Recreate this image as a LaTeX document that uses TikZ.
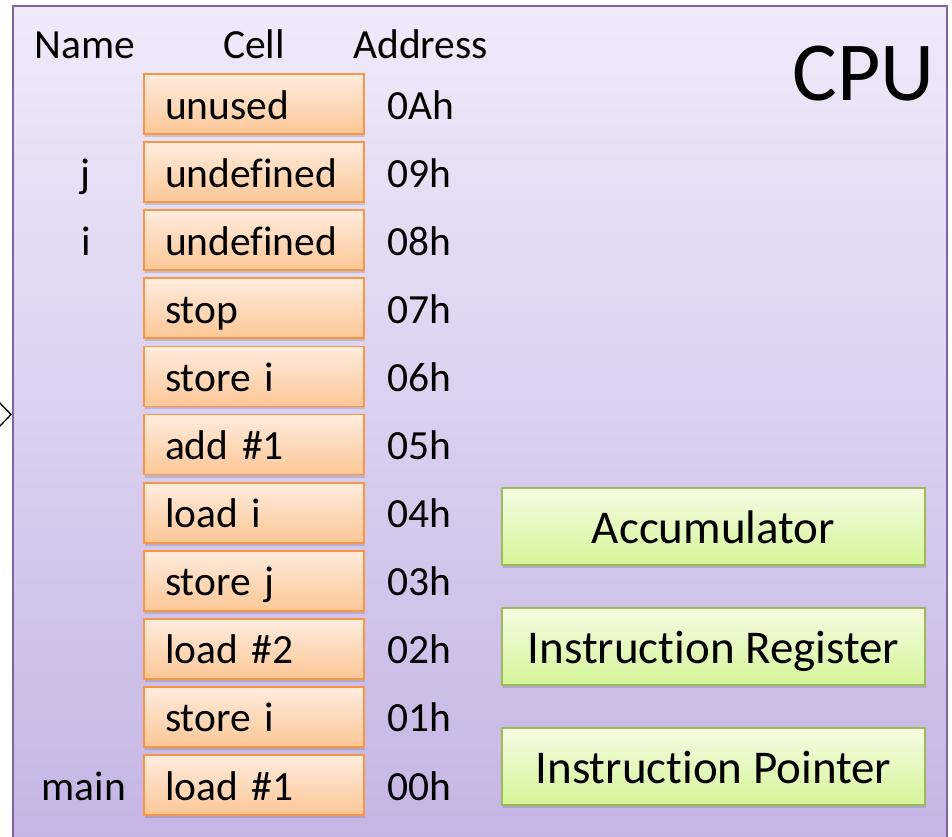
\documentclass[tikz,border=0pt]{standalone}
\usepackage{fontspec}
\setmainfont{Carlito}[Ligatures={NoCommon}]
\usetikzlibrary{shadows}
\definecolor{cputop}{RGB}{239,234,249}
\definecolor{cpubot}{RGB}{197,180,228}
\definecolor{cpuborder}{RGB}{128,100,162}
\definecolor{celltop}{RGB}{255,236,222}
\definecolor{cellbot}{RGB}{252,199,150}
\definecolor{cellborder}{RGB}{247,150,70}
\definecolor{regtop}{RGB}{244,252,226}
\definecolor{regbot}{RGB}{214,245,154}
\definecolor{regborder}{RGB}{155,187,89}
\tikzset{
  lbl/.style={font=\fontsize{41.5}{50}\selectfont, inner sep=0pt},
  cellbox/.style={rectangle, draw=cellborder, line width=1.8pt,
    top color=celltop, bottom color=cellbot,
    minimum width=220pt, minimum height=60pt, inner sep=0pt,
    text width=178pt, align=left, text height=38pt, text depth=8pt,
    font=\fontsize{41.5}{50}\selectfont,
    drop shadow={shadow xshift=1pt, shadow yshift=-3pt, opacity=0.25, fill=black!60}},
  regbox/.style={rectangle, draw=regborder, line width=1.8pt,
    top color=regtop, bottom color=regbot,
    minimum width=423pt, minimum height=77pt, inner sep=0pt,
    text height=44pt, text depth=10pt,
    font=\fontsize{47}{56}\selectfont,
    drop shadow={shadow xshift=1pt, shadow yshift=-3pt, opacity=0.25, fill=black!60}},
}
\begin{document}
\begin{tikzpicture}[x=1pt,y=-1pt]
\useasboundingbox (0,0) rectangle (952,836);
\clip (0,0) rectangle (952,836);
% outer CPU box
\path[top color=cputop, bottom color=cpubot, draw=cpuborder, line width=2pt]
  (12.5,6) rectangle (947,850);
% chevron at left edge
\draw[line width=1.3pt, black] (-1,402) -- (11,414.5) -- (-1,427);
% CPU title
\node[font=\fontsize{84}{96}\selectfont, inner sep=0pt, anchor=base east] (cpu) at (935,100) {CPU};
% headers
\node[lbl, anchor=base] (hname) at (85,58) {Name};
\node[lbl, anchor=base] (hcell) at (254,58) {Cell};
\node[lbl, anchor=base west] (haddr) at (353,58) {Address};
% cells
\foreach \i/\txt/\addr in {0/unused/0Ah, 1/undefined/09h, 2/undefined/08h, 3/stop/07h,
    4/store i/06h, 5/add \#1/05h, 6/load i/04h, 7/store j/03h, 8/load \#2/02h,
    9/store i/01h, 10/load \#1/00h}{
  \node[cellbox] (c\i) at (254,{104+68.1*\i}) {\txt};
  \node[lbl, anchor=base west] (a\i) at (387,{119+68.1*\i}) {\addr};
}
% names
\node[lbl, anchor=base] (nj) at (85,{119+68.1}) {j};
\node[lbl, anchor=base] (ni) at (86,{119+68.1*2}) {i};
\node[lbl, anchor=base] (nmain) at (84,{119+68.1*10}) {main};
% registers
\node[regbox] (acc) at (713.5,526.5) {Accumulator};
\node[regbox] (ir) at (713.5,646.5) {Instruction Register};
\node[regbox] (ip) at (713.5,766.5) {Instruction Pointer};
\end{tikzpicture}
\end{document}
